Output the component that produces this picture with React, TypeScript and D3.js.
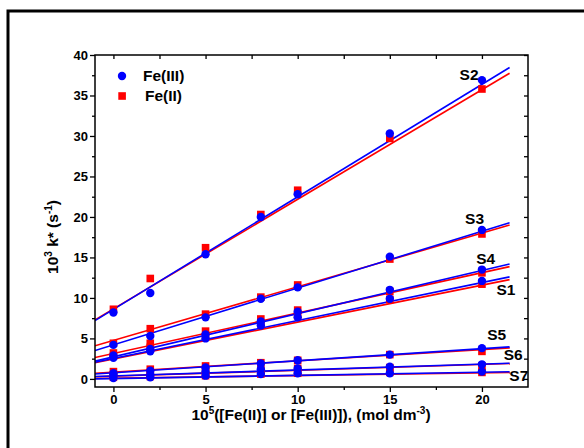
import * as d3 from "d3";
import { useEffect, useRef } from "react";

// x: 10^5 [Fe], mol dm^-3
const concentrations = [0, 2, 5, 8, 10, 15, 20];
const seriesNames = ["S1", "S2", "S3", "S4", "S5", "S6", "S7"];

// 10^3 k* (s^-1) with Fe(III)
const fe3S1 = [2.6, 3.4, 5.0, 6.6, 7.6, 9.9, 12.1];
const fe3S2 = [8.2, 10.6, 15.4, 20.0, 22.8, 30.3, 36.9];
const fe3S3 = [4.2, 5.3, 7.6, 9.9, 11.3, 15.1, 18.4];
const fe3S4 = [2.9, 3.7, 5.5, 7.1, 8.3, 11.0, 13.5];
const fe3S5 = [0.7, 1.0, 1.4, 1.9, 2.3, 3.0, 3.8];
const fe3S6 = [0.4, 0.5, 0.9, 1.2, 1.3, 1.5, 1.8];
const fe3S7 = [0.1, 0.2, 0.4, 0.6, 0.7, 0.7, 0.9];

// 10^3 k* (s^-1) with Fe(II)
const fe2S1 = [2.8, 3.9, 5.2, 6.8, 7.8, 9.8, 11.7];
const fe2S2 = [8.6, 12.4, 16.2, 20.3, 23.3, 29.7, 35.8];
const fe2S3 = [4.4, 6.2, 8.0, 10.1, 11.6, 14.8, 17.9];
const fe2S4 = [3.2, 4.4, 5.9, 7.4, 8.5, 10.8, 13.1];
const fe2S5 = [0.9, 1.2, 1.6, 2.0, 2.3, 3.0, 3.4];
const fe2S6 = [0.5, 0.6, 0.9, 1.1, 1.3, 1.4, 1.6];
const fe2S7 = [0.2, 0.3, 0.4, 0.6, 0.7, 0.8, 0.8];

// linear fits as drawn (intercept, slope) for S1..S7
const fe3Intercepts = [2.52, 8.59, 4.2, 2.73, 0.75, 0.37, 0.04];
const fe3Slopes = [0.469, 1.389, 0.702, 0.533, 0.149, 0.073, 0.039];
const fe2Intercepts = [2.46, 8.65, 4.76, 3.14, 0.84, 0.33, 0.09];
const fe2Slopes = [0.456, 1.353, 0.662, 0.499, 0.139, 0.073, 0.033];
const fitRange = [-1, 21.5];

// series label anchors (data units)
const labelX = [21.3, 19.3, 19.6, 20.2, 20.8, 21.7, 22.0];
const labelY = [10.3, 36.9, 19.1, 14.2, 4.8, 2.35, -0.25];

const xMajor = [0, 5, 10, 15, 20];
const xMinor = [2.5, 7.5, 12.5, 17.5];
const yMajor = [0, 5, 10, 15, 20, 25, 30, 35, 40];
const yMinor = [2.5, 7.5, 12.5, 17.5, 22.5, 27.5, 32.5, 37.5];

const fe3Values = [fe3S1, fe3S2, fe3S3, fe3S4, fe3S5, fe3S6, fe3S7];
const fe2Values = [fe2S1, fe2S2, fe2S3, fe2S4, fe2S5, fe2S6, fe2S7];

const FONT = "Arial, 'Liberation Sans', sans-serif";
const BLUE = "#0000ff";
const RED = "#ff0000";

export default function App() {
    const width = 584;
    const height = 448;
    const left = 95, right = 528, top = 55, bottom = 387;

    const gx = useRef<SVGGElement>(null);
    const gxMinor = useRef<SVGGElement>(null);
    const gy = useRef<SVGGElement>(null);
    const gyMinor = useRef<SVGGElement>(null);
    const gTop = useRef<SVGGElement>(null);
    const gRight = useRef<SVGGElement>(null);

    const x = d3.scaleLinear().domain([-1, 22.5]).range([left, right]);
    const y = d3.scaleLinear().domain([-1, 40]).range([bottom, top]);

    const line = d3.line<number[]>()
        .x(d => x(d[0]))
        .y(d => y(d[1]));

    const fitPath = (a: number, b: number) =>
        line(fitRange.map(v => [v, a + b * v]));

    useEffect(() => {
        const style = (sel: any) => {
            sel.select(".domain").remove();
            sel.selectAll("line").attr("stroke", "#000").attr("stroke-width", 1.3);
            sel.selectAll("text")
                .attr("font-family", FONT)
                .attr("font-weight", "bold")
                .attr("font-size", 13)
                .attr("fill", "#000");
        };
        d3.select(gx.current).call(
            d3.axisBottom(x).tickValues(xMajor).tickSize(5).tickPadding(3).tickFormat(d3.format("d")) as any
        ).call(style);
        d3.select(gxMinor.current).call(
            d3.axisBottom(x).tickValues(xMinor).tickSize(3).tickFormat(() => "") as any
        ).call(style);
        d3.select(gy.current).call(
            d3.axisLeft(y).tickValues(yMajor).tickSize(5).tickPadding(2).tickFormat(d3.format("d")) as any
        ).call(style);
        d3.select(gyMinor.current).call(
            d3.axisLeft(y).tickValues(yMinor).tickSize(3).tickFormat(() => "") as any
        ).call(style);
        d3.select(gTop.current).call(
            d3.axisTop(x).tickValues([...xMajor, ...xMinor]).tickSize(-4).tickFormat(() => "") as any
        ).call(style);
        d3.select(gRight.current).call(
            d3.axisRight(y).tickValues([...yMajor, ...yMinor]).tickSize(-4).tickFormat(() => "") as any
        ).call(style);
    }, []);

    return (
        <svg width={width} height={height}
            style={{ position: "absolute", left: 0, top: 0, background: "#fff" }}>
            <rect x={8} y={11} width={700} height={600} fill="none" stroke="#000" strokeWidth={3} />

            <defs>
                <clipPath id="plot">
                    <rect x={left} y={top} width={right - left} height={bottom - top} />
                </clipPath>
            </defs>

            <g clipPath="url(#plot)">
                {seriesNames.map((s, i) => (
                    <path key={"r" + s} d={fitPath(fe2Intercepts[i], fe2Slopes[i]) ?? ""}
                        fill="none" stroke={RED} strokeWidth={1.6} />
                ))}
                {seriesNames.map((s, i) => (
                    <path key={"b" + s} d={fitPath(fe3Intercepts[i], fe3Slopes[i]) ?? ""}
                        fill="none" stroke={BLUE} strokeWidth={1.6} />
                ))}
                {fe2Values.map((vals, i) => vals.map((v, j) => (
                    <rect key={`q${i}-${j}`} x={x(concentrations[j]) - 3.8} y={y(v) - 3.8}
                        width={7.6} height={7.6} fill={RED} />
                )))}
                {fe3Values.map((vals, i) => vals.map((v, j) => (
                    <circle key={`c${i}-${j}`} cx={x(concentrations[j])} cy={y(v)} r={4.2} fill={BLUE} />
                )))}
            </g>

            <rect x={left} y={top} width={right - left} height={bottom - top}
                fill="none" stroke="#000" strokeWidth={1.5} />

            <g ref={gx} transform={`translate(0,${bottom})`} />
            <g ref={gxMinor} transform={`translate(0,${bottom})`} />
            <g ref={gy} transform={`translate(${left},0)`} />
            <g ref={gyMinor} transform={`translate(${left},0)`} />
            <g ref={gTop} transform={`translate(0,${top})`} />
            <g ref={gRight} transform={`translate(${right},0)`} />

            {seriesNames.map((s, i) => (
                <text key={"l" + s} x={x(labelX[i])} y={y(labelY[i])} textAnchor="middle"
                    fontFamily={FONT} fontWeight="bold" fontSize={15.5}>{s}</text>
            ))}

            <circle cx={122} cy={76} r={4.2} fill={BLUE} />
            <text x={143} y={81} fontFamily={FONT} fontWeight="bold" fontSize={15.5}>Fe(III)</text>
            <rect x={118.3} y={92.2} width={7.6} height={7.6} fill={RED} />
            <text x={145} y={101} fontFamily={FONT} fontWeight="bold" fontSize={15.5}>Fe(II)</text>

            <text x={311} y={420} textAnchor="middle" fontFamily={FONT} fontWeight="bold" fontSize={15.5}>
                10<tspan dy={-6} fontSize={10}>5</tspan>
                <tspan dy={6}>([Fe(II)] or [Fe(III)]), (mol dm</tspan>
                <tspan dy={-6} fontSize={10}>-3</tspan>
                <tspan dy={6}>)</tspan>
            </text>

            <text transform="translate(58,237) rotate(-90)" textAnchor="middle"
                fontFamily={FONT} fontWeight="bold" fontSize={15.5}>
                10<tspan dy={-6} fontSize={10}>3</tspan>
                <tspan dy={6}> k* (s</tspan>
                <tspan dy={-6} fontSize={10}>-1</tspan>
                <tspan dy={6}>)</tspan>
            </text>
        </svg>
    );
}
